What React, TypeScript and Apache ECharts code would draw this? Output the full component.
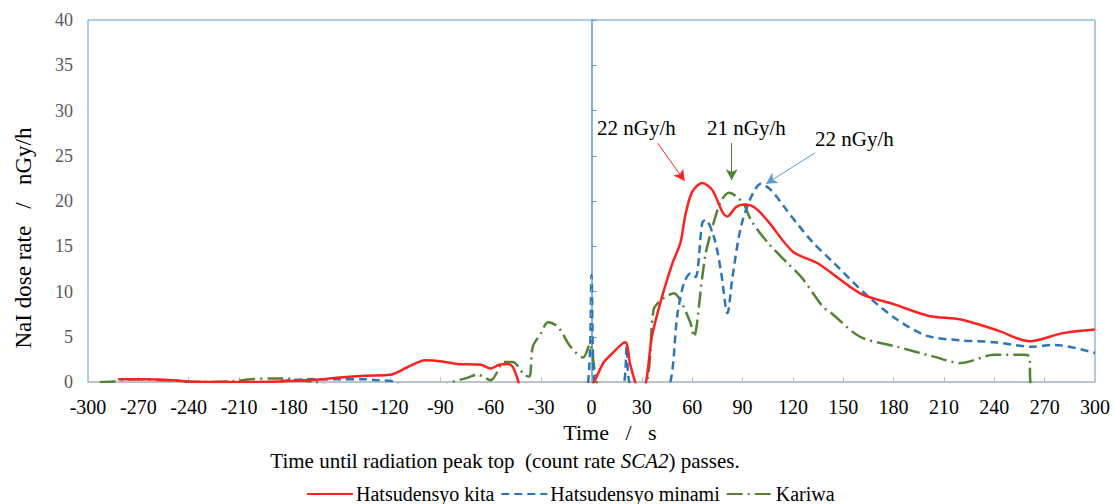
import React, { useEffect, useRef } from "react";
import * as echarts from "echarts";

const xTicks = { min: -300, max: 300, interval: 30 };
const yTicks = { min: 0, max: 40, interval: 5 };

const kitaT = [-282, -265, -250, -240, -220, -200, -180, -160, -150, -135, -120, -110, -99, -90, -80, -66, -60, -55, -50, -47, -44, -40, -20, -3, 1.5, 7, 11, 20, 23, 26, 29, 32.5, 36, 42, 48, 53, 56, 60, 66, 72, 78, 81, 86, 91, 97, 105, 120, 135, 160, 180, 201, 220, 242, 261, 281, 300];
const kitaV = [0.3, 0.3, 0.2, 0.05, 0, 0, 0.1, 0.3, 0.5, 0.7, 0.8, 1.6, 2.4, 2.3, 2.0, 1.9, 1.5, 1.9, 2.0, 1.7, 0.3, -2, -4, -1, 0, 2.1, 2.9, 4.4, 2.0, 0, -1.5, 0, 5.0, 9.4, 13.0, 15.4, 18.5, 21.0, 22.0, 21.2, 18.8, 18.3, 19.3, 19.6, 19.3, 17.8, 14.4, 13.1, 9.8, 8.6, 7.3, 6.9, 5.7, 4.5, 5.4, 5.8];

const minamiT = [-185, -170, -150, -135, -128, -117, -105, -60, -10, -2, 0, 1.5, 5, 15, 19.5, 21, 22.5, 30, 40, 47, 51, 55, 59, 62, 66, 68, 73, 77, 81, 84, 89, 95, 101, 107, 115, 123, 132, 143, 164, 182, 200, 220, 240, 262, 276, 300];
const minamiV = [0.1, 0.3, 0.3, 0.3, 0.2, 0, -2, -3, -2, 0, 11.8, 0, -2, -2, 0, 4.0, 0, -3, -2, 0, 7.2, 10.9, 12.0, 11.6, 17.6, 17.9, 16.0, 12.4, 7.6, 11.6, 17.1, 20.4, 21.9, 21.2, 19.3, 17.4, 15.4, 13.4, 9.6, 6.9, 5.1, 4.6, 4.4, 3.9, 4.1, 3.2];

const kariwaT = [-293, -285, -279, -271, -257, -249, -240, -228, -213, -203, -191, -184, -175, -165, -140, -95, -83, -75, -68, -60, -52, -47, -40, -37, -35, -30, -26, -20, -12.5, -5, -1, 3, 8, 25, 33, 37, 41, 45, 49, 53, 59, 61, 66, 68, 72, 77, 82, 87, 91, 95, 105, 117, 125, 138, 143, 160, 182, 204, 220, 240, 258, 261, 261.5, 264];
const kariwaV = [0, 0.05, 0.25, 0.3, 0.2, 0.2, 0, 0, 0.1, 0.3, 0.4, 0.4, 0.2, 0, -1, -1, 0, 0.4, 0.8, 0.2, 2.2, 2.2, 0.8, 0.6, 3.9, 5.4, 6.6, 6.1, 3.9, 2.7, 4.2, 0, -2, -2, 0, 8.0, 9.0, 9.5, 9.8, 9.0, 6.5, 5.0, 11.6, 14.2, 17.1, 19.9, 20.9, 20.4, 19.6, 17.9, 15.4, 13.1, 11.6, 8.3, 7.6, 5.0, 3.9, 2.8, 2.1, 3.0, 3.0, 2.8, 0, -2];

const seriesNames = ["Hatsudensyo kita", "Hatsudensyo minami", "Kariwa"];
const peakLabels = ["22 nGy/h", "22 nGy/h", "21 nGy/h"];
const xTitle = "Time   /   s";
const yTitle = "NaI dose rate   /   nGy/h";

const zip = (t: number[], v: number[]) => t.map((x, i) => [x, v[i]]);

const RED = "#FF2020";
const BLUE = "#2E75B6";
const GREEN = "#548235";
const AXIS_BLUE = "#5B9BD5";
const FONT = "Liberation Serif";

export default function App() {
  const ref = useRef<HTMLDivElement>(null);
  useEffect(() => {
    if (!ref.current) return;
    const chart = echarts.init(ref.current, undefined, { renderer: "svg" });
    const arrow = (from: number[], to: number[], color: string) => [
      { coord: from, lineStyle: { color, width: 1, type: "solid" } },
      { coord: to },
    ];
    chart.setOption({
      animation: false,
      grid: {
        left: 88,
        right: 20,
        top: 20,
        bottom: 122,
        show: true,
        borderColor: AXIS_BLUE,
        borderWidth: 1,
        backgroundColor: "transparent",
      },
      legend: {
        left: 306,
        top: 484,
        padding: 0,
        itemWidth: 46,
        itemHeight: 12,
        itemGap: 6,
        itemStyle: { opacity: 0 },
        textStyle: { fontFamily: FONT, fontSize: 20, color: "#000", padding: [0, 0, 0, -2] },
        data: seriesNames,
      },
      xAxis: {
        type: "value",
        min: xTicks.min,
        max: xTicks.max,
        interval: xTicks.interval,
        axisLine: { show: true, onZero: false, lineStyle: { color: "#BFBFBF", width: 1.5 } },
        axisTick: { show: true, inside: true, length: 5, lineStyle: { color: "#BFBFBF" } },
        axisLabel: { fontFamily: FONT, fontSize: 20, color: "#000", margin: 15 },
        splitLine: { show: false },
      },
      yAxis: {
        type: "value",
        min: yTicks.min,
        max: yTicks.max,
        interval: yTicks.interval,
        axisLine: { show: true, lineStyle: { color: AXIS_BLUE, width: 1.5 } },
        axisTick: { show: true, inside: true, length: 5, lineStyle: { color: AXIS_BLUE } },
        axisLabel: { fontFamily: FONT, fontSize: 18, color: "#595959", margin: 15 },
        splitLine: { show: false },
      },
      graphic: [
        {
          type: "text",
          x: 23,
          y: 238,
          rotation: Math.PI / 2,
          style: { text: yTitle, fontFamily: FONT, fontSize: 23, fill: "#000", align: "center", verticalAlign: "middle" },
        },
        {
          type: "text",
          x: 610,
          y: 432,
          style: { text: xTitle, fontFamily: FONT, fontSize: 22, fill: "#000", align: "center", verticalAlign: "middle" },
        },
        {
          type: "text",
          x: 505,
          y: 461,
          style: {
            text: "Time until radiation peak top  (count rate {i|SCA2}) passes.",
            rich: { i: { fontStyle: "italic", fontFamily: FONT, fontSize: 21, fill: "#000" } },
            fontFamily: FONT,
            fontSize: 21,
            fill: "#000",
            align: "center",
            verticalAlign: "middle",
          },
        },
        { type: "text", x: 597, y: 117, style: { text: peakLabels[0], fontFamily: FONT, fontSize: 21, fill: "#000" } },
        { type: "text", x: 707, y: 117, style: { text: peakLabels[2], fontFamily: FONT, fontSize: 21, fill: "#000" } },
        { type: "text", x: 815, y: 128, style: { text: peakLabels[1], fontFamily: FONT, fontSize: 21, fill: "#000" } },
      ],
      series: [
        {
          name: seriesNames[0],
          type: "line",
          data: zip(kitaT, kitaV),
          showSymbol: false,
          symbol: "none",
          smooth: 0.3,
          clip: true,
          lineStyle: { color: RED, width: 2.5 },
          itemStyle: { color: RED },
          z: 3,
          markLine: {
            silent: true,
            symbol: ["none", "arrow"],
            symbolSize: [9, 11],
            label: { show: false },
            data: [arrow([39.4, 26.4], [55.5, 22.2], RED)],
          },
        },
        {
          name: seriesNames[1],
          type: "line",
          data: zip(minamiT, minamiV),
          showSymbol: false,
          symbol: "none",
          smooth: 0.3,
          clip: true,
          lineStyle: { color: BLUE, width: 2.5, type: [8, 5] },
          itemStyle: { color: BLUE },
          z: 2,
          markLine: {
            silent: true,
            symbol: ["none", "arrow"],
            symbolSize: [9, 11],
            label: { show: false },
            data: [arrow([133, 25.3], [104, 21.9], "#5B9BD5")],
          },
        },
        {
          name: seriesNames[2],
          type: "line",
          data: zip(kariwaT, kariwaV),
          showSymbol: false,
          symbol: "none",
          smooth: 0.3,
          clip: true,
          lineStyle: { color: GREEN, width: 2.5, type: [16, 5, 2, 5] },
          itemStyle: { color: GREEN },
          z: 1,
          markLine: {
            silent: true,
            symbol: ["none", "arrow"],
            symbolSize: [9, 11],
            label: { show: false },
            data: [arrow([83.5, 26.4], [83.5, 22.3], GREEN)],
          },
        },
        {
          name: "zero",
          type: "line",
          data: [],
          silent: true,
          z: 0,
          markLine: {
            silent: true,
            symbol: "none",
            label: { show: false },
            lineStyle: { color: "#7FB0DE", width: 0.8, type: [3, 3] },
            data: [{ xAxis: 0 }],
          },
        },
      ],
    });
    return () => chart.dispose();
  }, []);
  return (
    <div
      ref={ref}
      style={{ position: "fixed", left: 0, top: 0, width: 1115, height: 504, background: "#fff" }}
    />
  );
}
